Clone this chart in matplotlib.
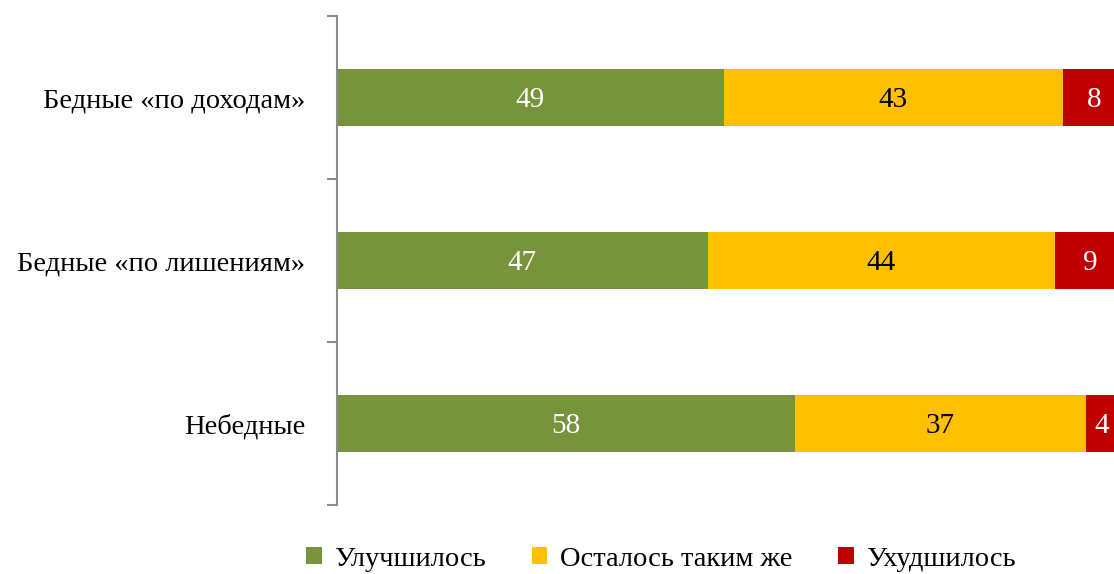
import matplotlib
matplotlib.use("Agg")
import matplotlib.pyplot as plt
from matplotlib.patches import Patch
import numpy as np

categories = ["Бедные «по доходам»", "Бедные «по лишениям»", "Небедные"]
series_names = ["Улучшилось", "Осталось таким же", "Ухудшилось"]
improved = [49, 47, 58]
same = [43, 44, 37]
worse = [8, 9, 4]
colors = ["#77933C", "#FFC000", "#C00000"]
text_colors = ["white", "black", "white"]

plt.rcParams['font.family'] = ['Liberation Serif', 'DejaVu Serif']

fig = plt.figure(figsize=(11.14, 5.74), dpi=100)
ax = fig.add_axes([337/1114, 1-505/574, 1-337/1114, (505-16)/574])

y = np.arange(len(categories))
left = np.zeros(len(categories))
for vals, col, tc in zip([improved, same, worse], colors, text_colors):
    vals = np.array(vals, dtype=float)
    ax.barh(y, vals, left=left, height=0.355, color=col, edgecolor='none')
    for yi, l, v in zip(y, left, vals):
        ax.text(l + v/2, yi + 0.015, f"{int(v)}", ha='center', va='center', color=tc, fontsize=21)
    left += vals

ax.set_xlim(0, 98.5)
ax.set_ylim(2.5, -0.5)
ax.set_yticks(y)
ax.set_yticklabels(categories, fontsize=20.5)
ax.set_yticks([-0.5, 0.5, 1.5, 2.5], minor=True)
ax.tick_params(axis='y', which='major', length=0, pad=23)
ax.tick_params(axis='y', which='minor', length=7.5, width=1.5, color='#8C8C8C')
ax.set_xticks([])
for s in ['top', 'right', 'bottom']:
    ax.spines[s].set_visible(False)
ax.spines['left'].set_color('#8C8C8C')
ax.spines['left'].set_linewidth(1.5)

handles = [Patch(facecolor=c, edgecolor='none') for c in colors]
fig.legend(handles, series_names, loc='center', bbox_to_anchor=(661/1114, 1-559/574),
           ncol=3, frameon=False, fontsize=20.5, handlelength=0.55, handleheight=0.55,
           handletextpad=0.45, columnspacing=1.6)

fig.savefig("out.png", dpi=100)
